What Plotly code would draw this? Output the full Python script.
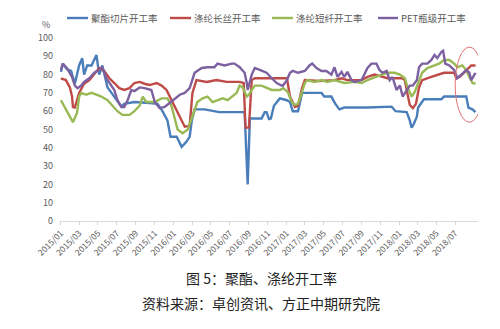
import plotly.graph_objects as go

# ---------------- data ----------------
series_names = ["聚酯切片开工率", "涤纶长丝开工率", "涤纶短纤开工率", "PET瓶级开工率"]

chip_dates = ["2015-01-01","2015-01-07","2015-01-20","2015-02-03","2015-02-15","2015-03-01","2015-03-11","2015-03-17","2015-03-27","2015-04-10",
              "2015-04-26","2015-05-05","2015-05-15","2015-06-01","2015-06-14","2015-06-30","2015-07-16","2015-07-25","2015-08-27","2015-10-15",
              "2015-11-10","2015-11-26","2015-12-12","2015-12-22","2016-01-11","2016-01-27","2016-02-10","2016-02-22","2016-02-29","2016-03-09",
              "2016-04-10","2016-05-28","2016-08-18","2016-08-28","2016-09-04","2016-10-12","2016-10-22","2016-10-28","2016-11-05","2016-11-11",
              "2016-11-21","2016-12-10","2017-01-02","2017-01-12","2017-01-21","2017-02-07","2017-02-20","2017-04-24","2017-05-03","2017-05-26",
              "2017-06-08","2017-06-21","2017-07-07","2017-09-20","2017-12-07","2017-12-20","2018-01-25","2018-02-04","2018-02-10","2018-02-17",
              "2018-02-27","2018-03-03","2018-03-16","2018-03-22","2018-05-17","2018-05-26","2018-08-06","2018-08-13","2018-08-26","2018-09-05"]
chip_vals = [81.5,86,83,82,75,85,89,80,85,85,
             90.7,80,85,73,70,66,62.5,64,65,64.5,
             64,60,55,46,46,40.5,43,46,55,61,
             61,59.5,59.5,20,56,56,59.5,59.5,55.7,56,
             63,67,66,65,60,60,70,70,68,68,
             64,61,62,62,62.5,60,59.5,55,51,53,
             57,62,65,66.5,66.5,68,68,62,61,59.5]

fil_dates = ["2015-01-01","2015-01-17","2015-01-30","2015-02-06","2015-02-09","2015-02-15","2015-03-01","2015-03-17","2015-04-03","2015-04-19",
             "2015-05-05","2015-05-21","2015-06-07","2015-06-23","2015-07-09","2015-07-25","2015-08-11","2015-08-27","2015-09-13","2015-09-29",
             "2015-10-15","2015-11-07","2015-11-23","2015-12-09","2015-12-25","2016-01-11","2016-01-27","2016-02-06","2016-02-22","2016-03-02",
             "2016-03-15","2016-04-17","2016-05-19","2016-06-20","2016-08-02","2016-08-15","2016-08-21","2016-09-01","2016-09-10","2016-09-20",
             "2017-01-02","2017-01-12","2017-01-28","2017-02-07","2017-02-20","2017-03-01","2017-04-17","2017-06-05","2017-06-28","2017-07-17",
             "2017-09-01","2017-09-20","2017-10-13","2017-11-05","2017-11-24","2018-01-09","2018-01-19","2018-01-25","2018-02-04","2018-02-14",
             "2018-02-24","2018-03-06","2018-03-16","2018-04-15","2018-05-26","2018-06-28","2018-07-05","2018-07-17","2018-08-06","2018-08-22",
             "2018-09-05"]
fil_vals = [78,77,73,68,62.3,62,70,75,77,80,
            83.6,82,78,75.4,72.6,71.6,72.6,75.4,76,75,
            74.3,75.4,74,71.6,66,60.6,55,51.5,52,70,
            77,76,77,76,76,75.4,51,51,77,78,
            78,68,62.3,63,72.7,77,76.5,77,78,77,
            77,78.7,80,78.7,78,78,77,71.6,63.4,61.7,
            64,73,77,78.7,81,81,78,79,82.5,85,
            85]

sta_dates = ["2015-01-01","2015-01-13","2015-01-30","2015-02-09","2015-02-22","2015-03-01","2015-03-08","2015-03-24","2015-04-10","2015-04-26",
             "2015-05-12","2015-06-01","2015-06-17","2015-07-03","2015-07-19","2015-08-11","2015-08-27","2015-09-13","2015-09-23","2015-10-05",
             "2015-11-01","2015-11-23","2015-12-12","2015-12-25","2016-01-14","2016-01-30","2016-02-16","2016-03-02","2016-03-18","2016-04-04",
             "2016-04-20","2016-05-06","2016-05-22","2016-06-08","2016-06-24","2016-07-10","2016-07-23","2016-08-02","2016-08-12","2016-08-25",
             "2016-09-01","2016-09-10","2016-09-20","2016-10-12","2016-10-28","2016-11-14","2016-12-10","2016-12-22","2017-01-05","2017-01-18",
             "2017-01-28","2017-02-07","2017-02-20","2017-03-01","2017-03-09","2017-04-01","2017-04-24","2017-05-13","2017-06-05","2017-06-21",
             "2017-07-07","2017-08-09","2017-09-01","2017-09-20","2017-10-13","2017-11-05","2017-11-24","2017-12-17","2018-01-03","2018-01-19",
             "2018-01-28","2018-02-10","2018-02-20","2018-03-06","2018-03-16","2018-04-02","2018-04-25","2018-05-10","2018-05-26","2018-06-12",
             "2018-06-28","2018-07-08","2018-07-24","2018-08-06","2018-08-16","2018-08-26","2018-09-05"]
sta_vals = [66,62,57,54,59,68,70,69,70,69,
            68,66,63,60,58,58,60,63,68,65,
            65,67,67,63,50,48,50,57,65,67,
            68,65,66,67,66,68,70,74,73,68,
            69,71.6,74,74,72.7,71.6,71.6,72.5,70.5,65,
            63.4,64,70.5,75.4,77,76,77,76,77,76,
            75.4,76,75.4,77,78.7,80,81,81,80,78,
            73,68,70.5,77,81,83.6,85,86,88,88,
            86,84,85,82.5,78.7,75.4,75]

pet_dates = ["2015-01-01","2015-01-07","2015-01-20","2015-02-06","2015-02-15","2015-02-24","2015-03-08","2015-03-17","2015-04-03","2015-04-19",
             "2015-05-05","2015-05-15","2015-05-28","2015-06-07","2015-06-23","2015-07-03","2015-07-16","2015-07-25","2015-08-05","2015-08-17",
             "2015-08-27","2015-09-13","2015-09-29","2015-10-21","2015-11-01","2015-11-17","2015-12-03","2015-12-19","2016-01-05","2016-01-21",
             "2016-02-06","2016-02-22","2016-03-09","2016-04-01","2016-04-20","2016-05-12","2016-05-22","2016-06-14","2016-07-07","2016-07-16",
             "2016-08-02","2016-08-18","2016-08-25","2016-08-28","2016-09-10","2016-09-20","2016-09-30","2016-10-12","2016-10-28","2016-11-14",
             "2016-11-30","2016-12-19","2017-01-02","2017-01-12","2017-01-21","2017-02-07","2017-03-01","2017-03-16","2017-03-25","2017-04-08",
             "2017-04-24","2017-05-10","2017-05-26","2017-06-05","2017-06-15","2017-06-28","2017-07-07","2017-07-17","2017-07-30","2017-08-09",
             "2017-09-01","2017-09-20","2017-10-03","2017-10-19","2017-10-29","2017-11-08","2017-11-21","2017-12-01","2017-12-10","2017-12-23",
             "2018-01-03","2018-01-12","2018-01-25","2018-02-04","2018-02-14","2018-02-27","2018-03-06","2018-03-16","2018-04-02","2018-04-15",
             "2018-04-25","2018-05-04","2018-05-17","2018-05-23","2018-05-30","2018-06-12","2018-06-28","2018-07-08","2018-07-21","2018-08-06",
             "2018-08-16","2018-08-22","2018-09-05"]
pet_vals = [82.5,86,83.6,78.7,74,72.6,74,76,78,81,
            82.5,84,78,75.4,71.6,66,62.3,62.3,66,71.6,
            71,73,72.6,71.6,65,61.7,62.3,64.5,67,69,
            70,72.6,81,83.6,84,84,86,85,86,86,
            84,81,75.4,71.6,80,83.6,83,82,81,78,
            75.4,73.8,77,81,82,81,82,85,86,83.6,
            82,82,80,84,78.7,81.5,78.7,81.5,77,76,
            77,83.6,86,86,82.5,81,82,77,78.7,71.6,
            74,68,71.6,74,74,77,84,86,86,88,
            90.7,89,92.3,93,86,85,82.5,78,80,82.5,
            81,77,81]

x_tick_vals = ["2015-01-01","2015-03-01","2015-05-01","2015-07-01","2015-09-01","2015-11-01",
               "2016-01-01","2016-03-01","2016-05-01","2016-07-01","2016-09-01","2016-11-01",
               "2017-01-01","2017-03-01","2017-05-01","2017-07-01","2017-09-01","2017-11-01",
               "2018-01-01","2018-03-01","2018-05-01","2018-07-01"]
x_tick_text = ["2015/01","2015/03","2015/05","2015/07","2015/09","2015/11",
               "2016/01","2016/03","2016/05","2016/07","2016/09","2016/11",
               "2017/01","2017/03","2017/05","2017/07","2017/09","2017/11",
               "2018/01","2018/03","2018/05","2018/07"]
y_ticks = [0, 10, 20, 30, 40, 50, 60, 70, 80, 90, 100]

caption_title = "图 5：聚酯、涤纶开工率"
caption_source = "资料来源：卓创资讯、方正中期研究院"

colors = ["#4A7EBB", "#BE4B48", "#98B954", "#7D60A0"]
all_dates = [chip_dates, fil_dates, sta_dates, pet_dates]
all_vals = [chip_vals, fil_vals, sta_vals, pet_vals]

FONT = "Noto Sans CJK SC"
ML, MR, MT, MB = 60, 22, 38, 108
W, H = 500, 329
PW, PH = W - ML - MR, H - MT - MB


def px_x(p):
    return (p - ML) / PW


def px_y(p):
    return (H - MB - p) / PH


fig = go.Figure()
for name, d, v, c in zip(series_names, all_dates, all_vals, colors):
    fig.add_trace(go.Scatter(x=d, y=v, name=name, mode="lines",
                             line=dict(color=c, width=2.4), showlegend=False))

# legend drawn as line samples + labels above the plot
legend_line_px = [(67, 88), (170, 191), (272, 293), (378, 398)]
shapes = []
annotations = []
for (a, b), name, c in zip(legend_line_px, series_names, colors):
    shapes.append(dict(type="line", xref="paper", yref="paper",
                       x0=px_x(a), x1=px_x(b), y0=px_y(18), y1=px_y(18),
                       line=dict(color=c, width=2.4)))
    annotations.append(dict(text=name, xref="paper", yref="paper", x=px_x(b + 1), y=px_y(18),
                            xanchor="left", yanchor="middle", showarrow=False,
                            font=dict(size=9.5, color="#595959", family=FONT)))

shapes.append(dict(type="circle", xref="x", yref="y", x0="2018-07-01", x1="2018-10-01", y0=54, y1=95,
                   line=dict(color="#E07070", width=1)))

annotations += [
    dict(text="%", xref="paper", yref="paper", x=px_x(46), y=px_y(25), showarrow=False,
         font=dict(size=9, color="#595959"), xanchor="center", yanchor="middle"),
    dict(text=caption_title, xref="paper", yref="paper", x=px_x(261), y=px_y(278),
         showarrow=False, font=dict(size=14, color="#222222"), xanchor="center", yanchor="middle"),
    dict(text=caption_source, xref="paper", yref="paper", x=px_x(261), y=px_y(303),
         showarrow=False, font=dict(size=14, color="#222222"), xanchor="center", yanchor="middle"),
]

fig.update_layout(
    width=W, height=H,
    margin=dict(l=ML, r=MR, t=MT, b=MB),
    paper_bgcolor="white", plot_bgcolor="white",
    font=dict(family=FONT, color="#595959"),
    showlegend=False,
    xaxis=dict(type="date", range=["2014-12-29", "2018-09-13"], automargin=False,
               tickmode="array", tickvals=x_tick_vals, ticktext=x_tick_text,
               tickangle=-45, tickfont=dict(size=8.5, color="#595959"),
               showgrid=False, showline=True, linecolor="#D9D9D9", linewidth=1,
               ticks="outside", ticklen=3, tickcolor="#D9D9D9", zeroline=False),
    yaxis=dict(range=[0, 100], tickvals=y_ticks, tickfont=dict(size=9, color="#595959"),
               automargin=False,
               showgrid=False, zeroline=False, showline=False, ticks="", ticklabelstandoff=6),
    annotations=annotations,
    shapes=shapes,
)

fig.write_html("out.html")
